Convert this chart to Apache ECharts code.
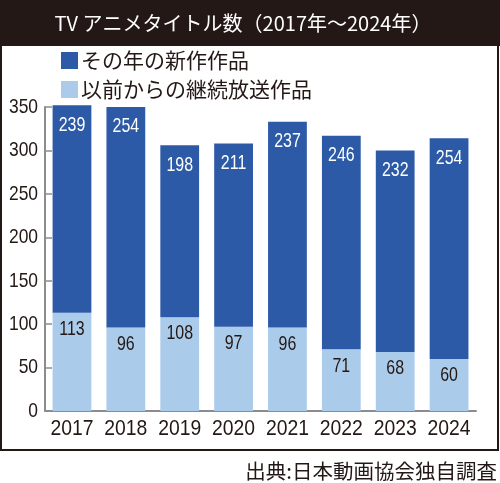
<!DOCTYPE html>
<html>
<head>
<meta charset="utf-8">
<script src="https://cdn.jsdelivr.net/npm/echarts@6/dist/echarts.min.js"></script>
<style>html,body{margin:0;padding:0;background:#fff;}#c{width:500px;height:483px;}</style>
</head>
<body>
<div id="c"></div>
<script>
const categories = ['2017','2018','2019','2020','2021','2022','2023','2024'];
const continuing = [113, 96, 108, 97, 96, 71, 68, 60];
const newWorks = [239, 254, 198, 211, 237, 246, 232, 254];
const seriesNames = ['その年の新作作品', '以前からの継続放送作品'];
const titleText = 'TV アニメタイトル数（2017年～2024年）';
const sourceText = '出典:日本動画協会独自調査';

const dark = '#231815';
const numFont = '"Liberation Sans", Arial, sans-serif';
const jpFont = '"Noto Sans CJK JP", sans-serif';

const chart = echarts.init(document.getElementById('c'));
chart.setOption({
  animation: false,
  grid: { left: 44, right: 24, top: 107, bottom: 72 },
  legend: {
    orient: 'vertical', left: 61, top: 50, padding: 0,
    itemWidth: 17, itemHeight: 17, itemGap: 8,
    icon: 'rect',
    data: [seriesNames[0], seriesNames[1]],
    textStyle: { fontFamily: jpFont, fontSize: 21, color: dark, padding: [0,0,0,-2] }
  },
  xAxis: {
    type: 'category', data: categories,
    axisLine: { lineStyle: { color: '#8c8c8c', width: 2 } },
    axisTick: { inside: true, length: 7, lineStyle: { color: dark, width: 1.2 } },
    axisLabel: { interval: 0, fontFamily: numFont, fontSize: 22, color: dark, margin: 7 }
  },
  yAxis: {
    type: 'value', min: 0, max: 350, interval: 50,
    axisLine: { show: true, lineStyle: { color: '#8c8c8c', width: 2 } },
    axisTick: { show: true, inside: true, length: 7, lineStyle: { color: '#8c8c8c', width: 1.5 } },
    splitLine: { show: false },
    axisLabel: { fontFamily: numFont, fontSize: 21, color: dark, margin: 7 }
  },
  series: [
    {
      name: seriesNames[1], type: 'bar', stack: 'total', data: continuing,
      barWidth: '72%', clip: false,
      itemStyle: { color: '#abcbea' },
      label: { show: true, position: 'insideTop', distance: 6, color: dark, fontFamily: numFont, fontSize: 21 }
    },
    {
      name: seriesNames[0], type: 'bar', stack: 'total', data: newWorks,
      barWidth: '72%', clip: false,
      itemStyle: { color: '#2c5aa7' },
      label: { show: true, position: 'insideTop', distance: 9, color: '#ffffff', fontFamily: numFont, fontSize: 21 }
    }
  ],
  graphic: [
    { type: 'rect', shape: { x: 0, y: 0, width: 500, height: 46 }, style: { fill: dark }, z: 10 },
    { type: 'text', x: 243, y: 23, z: 11,
      style: { text: titleText, fill: '#fff', font: '20px ' + jpFont, textAlign: 'center', textVerticalAlign: 'middle' } },
    { type: 'rect', shape: { x: 1, y: 45, width: 497, height: 405 }, style: { fill: 'none', stroke: dark, lineWidth: 2 }, z: 10 },
    { type: 'text', x: 497, y: 471, z: 11,
      style: { text: sourceText, fill: dark, font: '20.5px ' + jpFont, textAlign: 'right', textVerticalAlign: 'middle' } }
  ]
});

// Narrow the numeric text horizontally to imitate the condensed typeface of the original.
(function condense() {
  const zr = chart.getZr();
  function scaleText(el, s) {
    const t = el.style && el.style.text;
    if (typeof t === 'string' && /^\d+$/.test(t)) {
      el.scaleX = s;
      el.markRedraw && el.markRedraw();
    }
  }
  function visit(el, inLabel) {
    if (!el) return;
    if (el.type === 'text') {
      const t = el.style && el.style.text;
      let s = 0.83;
      if (inLabel) s = 0.76;
      else if (typeof t === 'string' && t.length === 4) s = 0.88;
      scaleText(el, s);
    }
    const tc = el.getTextContent && el.getTextContent();
    if (tc) visit(tc, true);
    if (el.isGroup && el.eachChild) el.eachChild(function (c) { visit(c, inLabel); });
  }
  zr.storage.getRoots().forEach(function (r) { visit(r, false); });
  zr.refreshImmediately();
})();
</script>
</body>
</html>
